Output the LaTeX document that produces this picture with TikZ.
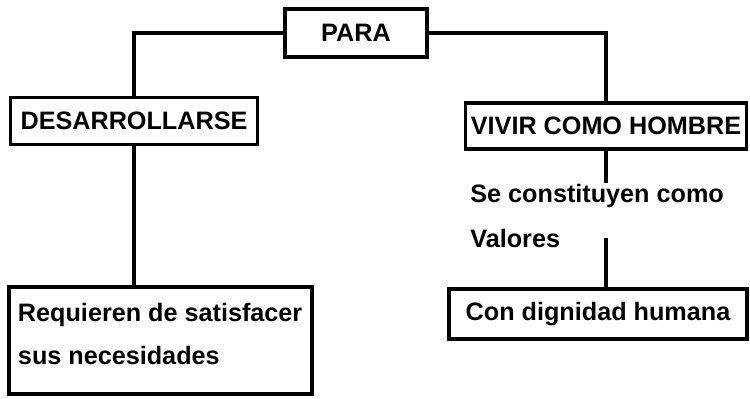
\documentclass[tikz,border=0pt]{standalone}
\usepackage{fontspec}
\setmainfont{Liberation Sans}
\usepackage{tikz}
\usepackage{xcolor}
\definecolor{inkc}{HTML}{000000}
\tikzset{
  box/.style={draw=inkc, line width=1.7pt, inner sep=0pt, font=\fontsize{12.6}{21.5}\selectfont\bfseries},
  label/.style={inner sep=0pt, font=\fontsize{12.6}{14}\selectfont\bfseries, text=inkc},
  link/.style={draw=inkc, line width=1.8pt},
}

\begin{document}
\begin{tikzpicture}[x=0.5pt,y=-0.5pt]
\useasboundingbox (0,0) rectangle (750,398);
\node[box, minimum width=71pt, minimum height=24pt] (para) at (356,33) {PARA};
\node[box, minimum width=123.5pt, minimum height=23.5pt] (desa) at (134,121) {DESARROLLARSE};
\node[box, minimum width=140.5pt, minimum height=23pt] (vivir) at (606,126) {VIVIR COMO HOMBRE};
\node[box, text width=142.5pt, inner xsep=4.5pt, minimum height=53.5pt, align=flush left, text depth=27.7pt] (req) at (160.5,340.5) {Requieren de satisfacer\\sus necesidades};
\node[box, minimum width=149pt, minimum height=25pt] (con) at (598,314) {Con dignidad humana};
\node[label, anchor=base west] (se) at (470,202) {Se constituyen como};
\node[label, anchor=base west] (val) at (470,247) {Valores};
\draw[link] (para.west) -| (desa.north);
\draw[link] (para.east) -| (vivir.north);
\draw[link] (desa.south) -- (desa.south |- req.north);
\draw[link] (vivir.south) -- (vivir.south |- se.north);
\draw[link] (vivir.south |- val.east) -- (vivir.south |- con.north);
\end{tikzpicture}
\end{document}
